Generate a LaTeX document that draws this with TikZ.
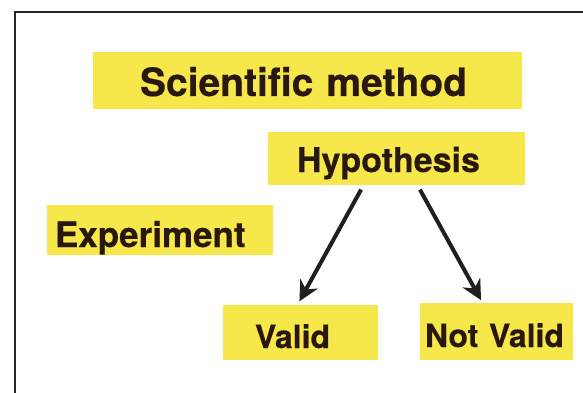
\documentclass[tikz,border=0pt]{standalone}
\usepackage{fontspec}
\setmainfont[BoldFeatures={FakeBold=0.4}]{TeX Gyre Heros}
\usepackage{tikz}
\usetikzlibrary{positioning,arrows.meta}
\definecolor{boxyellow}{RGB}{246,231,74}
\definecolor{inkbrown}{RGB}{40,24,16}

\begin{document}
\begin{tikzpicture}
[x=1pt, y=-1pt,
yellowbox/.style={rectangle, fill=boxyellow, inner ysep=0pt, align=left, text depth=0pt, text height=31pt, text=inkbrown, font=\bfseries\fontsize{32}{36}\selectfont},
titlebox/.style={yellowbox, font=\bfseries\fontsize{39}{42}\selectfont},
arrowline/.style={-{Stealth[length=20pt,width=20pt]}, line width=4pt, black!88},
]
\useasboundingbox (0,0) rectangle (583,393);
\fill[white] (0,0) rectangle (583,393);
\coordinate (ftop) at (583,12);
\coordinate (fcorner) at (15,12);
\coordinate (fbottom) at (15,393);
\draw[line width=1.6pt, black!85] (ftop) -- (fcorner) -- (fbottom);

\node[titlebox, inner xsep=47pt, text width=335pt, minimum height=57pt]	(title) at (307.5,80.5) {Scientific method};
\node[yellowbox, font=\bfseries\fontsize{34}{36}\selectfont, text height=27pt, inner xsep=29pt, text width=199pt, minimum height=53pt]	(hyp) at (396.5,158.5) {Hypothesis};
\node[yellowbox, font=\bfseries\fontsize{35}{36}\selectfont, text height=34pt, inner xsep=8pt, text width=210pt, minimum height=50pt]	(exp) at (160,230) {Experiment};
\node[yellowbox, inner xsep=32pt, text width=91pt, minimum height=55pt]	(valid) at (300.5,332.5) {Valid};
\node[yellowbox, inner xsep=5pt, text width=143pt, minimum height=57pt]	(notvalid) at (496.5,331.5) {Not Valid};

\draw[arrowline, shorten <=5pt, shorten >=4pt] ([xshift=-33pt]hyp.south) -- ([xshift=-3pt]valid.north);
\draw[arrowline, shorten <=5pt, shorten >=3pt] ([xshift=21pt]hyp.south) -- ([xshift=-14pt]notvalid.north);
\end{tikzpicture}
\end{document}
